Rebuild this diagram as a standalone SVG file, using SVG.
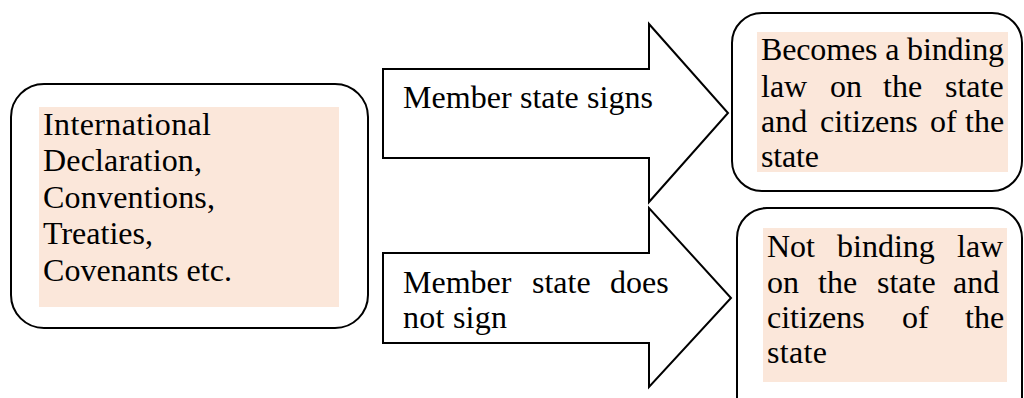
<svg xmlns="http://www.w3.org/2000/svg" width="1024" height="398" viewBox="0 0 1024 398">
<style>
.box{fill:#ffffff;stroke:#000000;stroke-width:2}
.hl{fill:#FBE7DA}
.arrow{fill:#ffffff;stroke:#000000;stroke-width:2;stroke-linejoin:miter}
.t{font-family:"Liberation Serif","Times New Roman",serif;font-size:32px;fill:#000000}
</style>
<rect x="0" y="0" width="1024" height="398" fill="#ffffff"/>
<g id="connectors">
  <g id="arrow-signs">
    <path class="arrow" d="M383,69 L649,69 L649,24 L728,113 L649,202 L649,158 L383,158 Z"/>
    <text class="t" x="403" y="108" textLength="250" lengthAdjust="spacing">Member state signs</text>
  </g>
  <g id="arrow-not-sign">
    <path class="arrow" d="M383,253 L649,253 L649,208 L731,298 L649,387 L649,343 L383,343 Z"/>
    <text class="t" y="293"><tspan x="403">Member</tspan><tspan x="532">state</tspan><tspan x="610">does</tspan></text>
    <text class="t" x="403" y="328" textLength="104" lengthAdjust="spacing">not sign</text>
  </g>
</g>
<g id="node-international">
  <rect class="box" x="11" y="84" width="357" height="244" rx="33" ry="33"/>
  <rect class="hl" x="39" y="107" width="300" height="200"/>
  <text class="t" x="43" y="135" textLength="168" lengthAdjust="spacing">International</text>
  <text class="t" x="43" y="171" textLength="159" lengthAdjust="spacing">Declaration,</text>
  <text class="t" x="43" y="208" textLength="172" lengthAdjust="spacing">Conventions,</text>
  <text class="t" x="43" y="244" textLength="110" lengthAdjust="spacing">Treaties,</text>
  <text class="t" x="43" y="281" textLength="189" lengthAdjust="spacing">Covenants etc.</text>
</g>
<g id="node-binding">
  <rect class="box" x="732" y="13" width="290" height="178" rx="30" ry="30"/>
  <rect class="hl" x="757" y="32" width="251" height="140"/>
  <text class="t" x="761" y="60" textLength="243" lengthAdjust="spacing">Becomes a binding</text>
  <text class="t" y="97"><tspan x="761">law</tspan><tspan x="830">on</tspan><tspan x="883">the</tspan><tspan x="945">state</tspan></text>
  <text class="t" y="132"><tspan x="761">and</tspan><tspan x="820">citizens</tspan><tspan x="930">of</tspan><tspan x="965">the</tspan></text>
  <text class="t" x="761" y="167" textLength="58" lengthAdjust="spacing">state</text>
</g>
<g id="node-not-binding">
  <rect class="box" x="737" y="208" width="285" height="222" rx="30" ry="30"/>
  <rect class="hl" x="763" y="228" width="244" height="154"/>
  <text class="t" y="257"><tspan x="767">Not</tspan><tspan x="837">binding</tspan><tspan x="957">law</tspan></text>
  <text class="t" y="293"><tspan x="767">on</tspan><tspan x="818">the</tspan><tspan x="877">state</tspan><tspan x="953">and</tspan></text>
  <text class="t" y="328"><tspan x="767">citizens</tspan><tspan x="902">of</tspan><tspan x="965">the</tspan></text>
  <text class="t" x="767" y="363" textLength="60" lengthAdjust="spacing">state</text>
</g>
</svg>
